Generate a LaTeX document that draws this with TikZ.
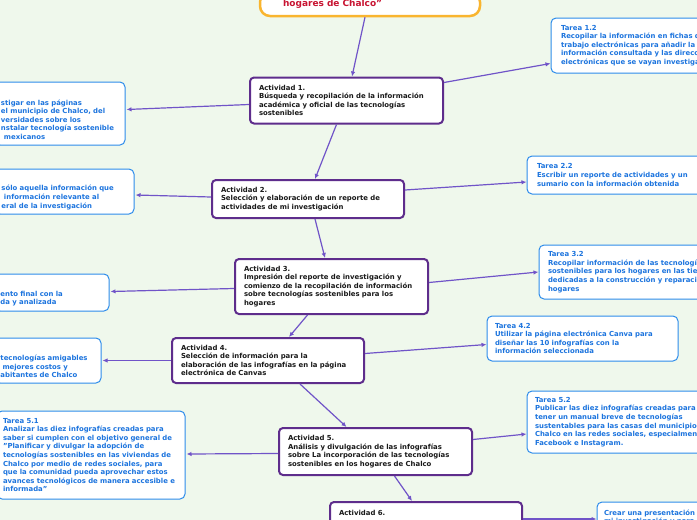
\documentclass[tikz,border=0pt]{standalone}
\usepackage{fontspec}
\setmainfont{DejaVu Sans}
\usetikzlibrary{arrows.meta,calc}
\definecolor{bg}{RGB}{239,248,236}
\definecolor{purp}{RGB}{94,45,140}
\definecolor{bluebd}{RGB}{45,140,235}
\definecolor{bluetx}{RGB}{28,116,222}
\definecolor{orng}{RGB}{249,181,47}
\definecolor{crim}{RGB}{200,20,50}
\definecolor{conn}{RGB}{112,84,200}
\newcommand\boxfont{\fontsize{6.9}{8.6}\selectfont\bfseries}
\newcommand\hidl{\rule{0pt}{9pt}}
\begin{document}
\begin{tikzpicture}[x=1pt,y=-1pt,
  act/.style={draw=purp,line width=2pt,rounded corners=4pt,fill=white,align=left,inner sep=0pt,font=\boxfont,text=black!90},
  tarea/.style={draw=bluebd,line width=1pt,rounded corners=5pt,fill=white,align=left,inner sep=0pt,font=\boxfont,text=bluetx},
  topbox/.style={draw=orng,line width=2.5pt,rounded corners=10pt,fill=white,align=left,inner sep=0pt,font=\fontsize{9}{11}\selectfont\bfseries,text=crim},
  link/.style={draw=conn,line width=1.2pt,-{Latex[length=5pt,width=4.5pt]}}]
\useasboundingbox (0,0) rectangle (697,520);
\fill[bg] (0,0) rectangle (697,520);
\clip (0,0) rectangle (697,520);

\node[topbox,minimum width=220pt,minimum height=24pt,text width=174pt] (top) at (370,4) {hogares de Chalco”};

\node[act,minimum width=193pt,minimum height=46pt,text width=175pt] (act1) at (346.5,100.5) {Actividad 1.\\Búsqueda y recopilación de la información\\académica y oficial de las tecnologías\\sostenibles};
\node[tarea,minimum width=249pt,minimum height=55pt,text width=229pt] (t12) at (675.5,45.5) {Tarea 1.2\\Recopilar la información en fichas de\\trabajo electrónicas para añadir la\\información consultada y las direcciones\\electrónicas que se vayan investigando};
\node[tarea,minimum width=130pt,minimum height=63pt,text width=118pt] (t11) at (60,113.5) {\hidl\\stigar en las páginas\\el municipio de Chalco, del\\versidades sobre los\\nstalar tecnología sostenible\\\hspace{3pt}mexicanos};

\node[act,minimum width=192pt,minimum height=38pt,text width=174pt] (act2) at (308,199) {Actividad 2.\\Selección y elaboración de un reporte de\\actividades de mi investigación};
\node[tarea,minimum width=139pt,minimum height=45pt,text width=126pt] (t21) at (64.5,191.5) {\hidl\\sólo aquella información que\\\hspace{2.5pt}información relevante al\\eral de la investigación};
\node[tarea,minimum width=273pt,minimum height=38pt,text width=253pt] (t22) at (663.5,175) {Tarea 2.2\\Escribir un reporte de actividades y un\\sumario con la información obtenida};

\node[act,minimum width=193pt,minimum height=55pt,text width=175pt] (act3) at (331.5,286.5) {Actividad 3.\\Impresión del reporte de investigación y\\comienzo de la recopilación de información\\sobre tecnologías sostenibles para los\\hogares};
\node[tarea,minimum width=114pt,minimum height=37pt,text width=103pt] (t31) at (52,292.5) {\hidl\\ento final con la\\da y analizada};
\node[tarea,minimum width=261pt,minimum height=54pt,text width=243pt] (t32) at (669.5,272) {Tarea 3.2\\Recopilar información de las tecnologías\\sostenibles para los hogares en las tiendas\\dedicadas a la construcción y reparación de\\hogares};

\node[act,minimum width=192pt,minimum height=45pt,text width=174pt] (act4) at (268,360.5) {Actividad 4.\\Selección de información para la\\elaboración de las infografías en la página\\electrónica de Canvas};
\node[tarea,minimum width=106pt,minimum height=45pt,text width=95pt] (t41) at (48,360.5) {\hidl\\tecnologías amigables\\\hspace{2pt}mejores costos y\\abitantes de Chalco};
\node[tarea,minimum width=191pt,minimum height=45pt,text width=175pt] (t42) at (582.5,338.5) {Tarea 4.2\\Utilizar la página electrónica Canva para\\diseñar las 10 infografías con la\\información seleccionada};

\node[act,minimum width=193pt,minimum height=47pt,text width=175pt] (act5) at (375.5,451.5) {Actividad 5.\\Análisis y divulgación de las infografías\\sobre La incorporación de las tecnologías\\sostenibles en los hogares de Chalco};
\node[tarea,minimum width=188pt,minimum height=88pt,text width=176pt] (t51) at (91,455) {Tarea 5.1\\Analizar las diez infografías creadas para\\saber si cumplen con el objetivo general de\\"Planificar y divulgar la adopción de\\tecnologías sostenibles en las viviendas de\\Chalco por medio de redes sociales, para\\que la comunidad pueda aprovechar estos\\avances tecnológicos de manera accesible e\\informada”};
\node[tarea,minimum width=273pt,minimum height=62pt,text width=257pt] (t52) at (663.5,422) {Tarea 5.2\\Publicar las diez infografías creadas para\\tener un manual breve de tecnologías\\sustentables para las casas del municipio de\\Chalco en las redes sociales, especialmente\\Facebook e Instagram.};

\node[act,minimum width=192pt,minimum height=38pt,text width=174pt] (act6) at (426,521) {Actividad 6.\\\mbox{}\\\mbox{}};
\node[tarea,minimum width=203pt,minimum height=38pt,text width=189pt] (t6) at (698.5,521) {Crear una presentación\\mi investigación y para\\\mbox{}};

\draw[link] ($(top.south)+(-5,0)$) -- ($(act1.north)+(5.5,0)$);
\draw[link] ($(act1.west)+(0,4)$) -- ($(t11.east)+(1,-4)$);
\draw[link] ($(act1.east)+(0,-18)$) -- ($(t12.west)+(0,18)$);
\draw[link] ($(act1.south)+(-10,0)$) -- ($(act2.north)+(7,0)$);
\draw[link] ($(act2.west)+(0,-2)$) -- ($(t21.east)+(1,3.5)$);
\draw[link] ($(act2.east)+(0,-9)$) -- ($(t22.west)+(0,7)$);
\draw[link] ($(act2.south)+(7,0)$) -- ($(act3.north)+(-6.5,0)$);
\draw[link] ($(act3.west)+(0,2)$) -- ($(t31.east)+(1,-1)$);
\draw[link] ($(act3.east)+(0,-4)$) -- (t32.west);
\draw[link] ($(act3.south)+(-24,0)$) -- ($(act4.north)+(21,0)$);
\draw[link] (act4.west) -- ($(t41.east)+(1,0)$);
\draw[link] ($(act4.east)+(0,-7)$) -- ($(t42.west)+(0,6)$);
\draw[link] ($(act4.south)+(32,0)$) -- ($(act5.north)+(-29,0)$);
\draw[link] ($(act5.west)+(0,2)$) -- ($(t51.east)+(1,-1)$);
\draw[link] ($(act5.east)+(0,-12)$) -- ($(t52.west)+(0,12)$);
\draw[link] ($(act5.south)+(19,0)$) -- ($(act6.north)+(-14,0)$);
\draw[link] ($(act6.east)+(0,-2)$) -- ($(t6.west)+(0,-2)$);
\end{tikzpicture}
\end{document}
